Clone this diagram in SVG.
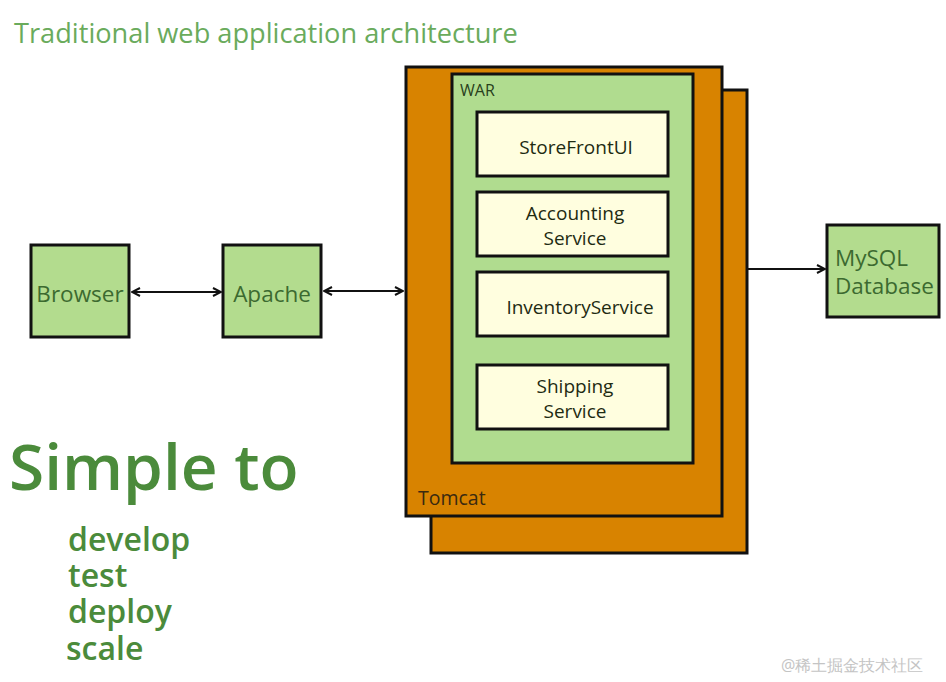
<svg xmlns="http://www.w3.org/2000/svg" width="946" height="682" viewBox="0 0 946 682">
<defs>
<style>
text{font-family:"Open Sans","Noto Sans","DejaVu Sans",sans-serif}
.box{stroke:#111;stroke-width:3}
.tom{fill:#d88300}
.war{fill:#b0dc8f}
.svc{fill:#fffedf}
.grn{fill:#b3dc8e}
.lbl{font-size:22.5px;font-weight:500;fill:#3c6a30}
.svt{font-size:19px;font-weight:500;fill:#1e2b12;text-anchor:middle}
.con{stroke:#111;stroke-width:2;fill:none}
.big{fill:#4b8b3b;font-weight:600}
</style>
<marker id="ah" viewBox="0 0 10 10" refX="9" refY="5" markerWidth="10" markerHeight="10" markerUnits="userSpaceOnUse" orient="auto-start-reverse">
<path d="M1,1 L9,5 L1,9" fill="none" stroke="#111" stroke-width="2"/>
</marker>
</defs>
<rect width="946" height="682" fill="#fff"/>
<text x="14" y="43" font-size="27.2" fill="#6aab5c">Traditional web application architecture</text>
<g id="tomcat-back"><rect class="box tom" x="431" y="90" width="316" height="463"/></g>
<g id="tomcat"><rect class="box tom" x="406" y="67" width="316" height="449"/><text x="418" y="505" font-size="19.5" font-weight="500" fill="#3a2a10">Tomcat</text></g>
<g id="war"><rect class="box war" x="452" y="74" width="241" height="389"/><text x="460" y="96" font-size="16" fill="#28401c">WAR</text></g>
<g id="storefront"><rect class="box svc" x="477" y="112" width="191" height="64"/><text class="svt" x="576" y="154">StoreFrontUI</text></g>
<g id="accounting"><rect class="box svc" x="477" y="192" width="191" height="64"/><text class="svt" x="575" y="220">Accounting</text><text class="svt" x="575" y="245">Service</text></g>
<g id="inventory"><rect class="box svc" x="477" y="272" width="191" height="64"/><text class="svt" x="580" y="314">InventoryService</text></g>
<g id="shipping"><rect class="box svc" x="477" y="365" width="191" height="64"/><text class="svt" x="575" y="393">Shipping</text><text class="svt" x="575" y="418">Service</text></g>
<g id="browser"><rect class="box grn" x="31" y="245" width="98" height="92"/><text class="lbl" x="80" y="302" text-anchor="middle">Browser</text></g>
<g id="apache"><rect class="box grn" x="223" y="245" width="98" height="92"/><text class="lbl" x="272" y="302" text-anchor="middle">Apache</text></g>
<g id="mysql"><rect class="box grn" x="827" y="225" width="112" height="92"/><text class="lbl" x="835" y="266">MySQL</text><text class="lbl" x="835" y="294">Database</text></g>
<g id="connectors">
<line class="con" x1="132" y1="292" x2="221" y2="292" marker-start="url(#ah)" marker-end="url(#ah)"/>
<line class="con" x1="324" y1="291" x2="403" y2="291" marker-start="url(#ah)" marker-end="url(#ah)"/>
<line class="con" x1="748" y1="269" x2="825" y2="269" marker-end="url(#ah)"/>
</g>
<text class="big" x="9" y="490" font-size="64">Simple to</text>
<text class="big" font-size="32"><tspan x="68" y="551">develop</tspan><tspan x="68" y="587">test</tspan><tspan x="68" y="623">deploy</tspan><tspan x="66" y="660">scale</tspan></text>
<text x="781" y="671" font-size="16" fill="#c4c4c4" font-family="'Noto Sans CJK SC',sans-serif">@稀土掘金技术社区</text>
</svg>
